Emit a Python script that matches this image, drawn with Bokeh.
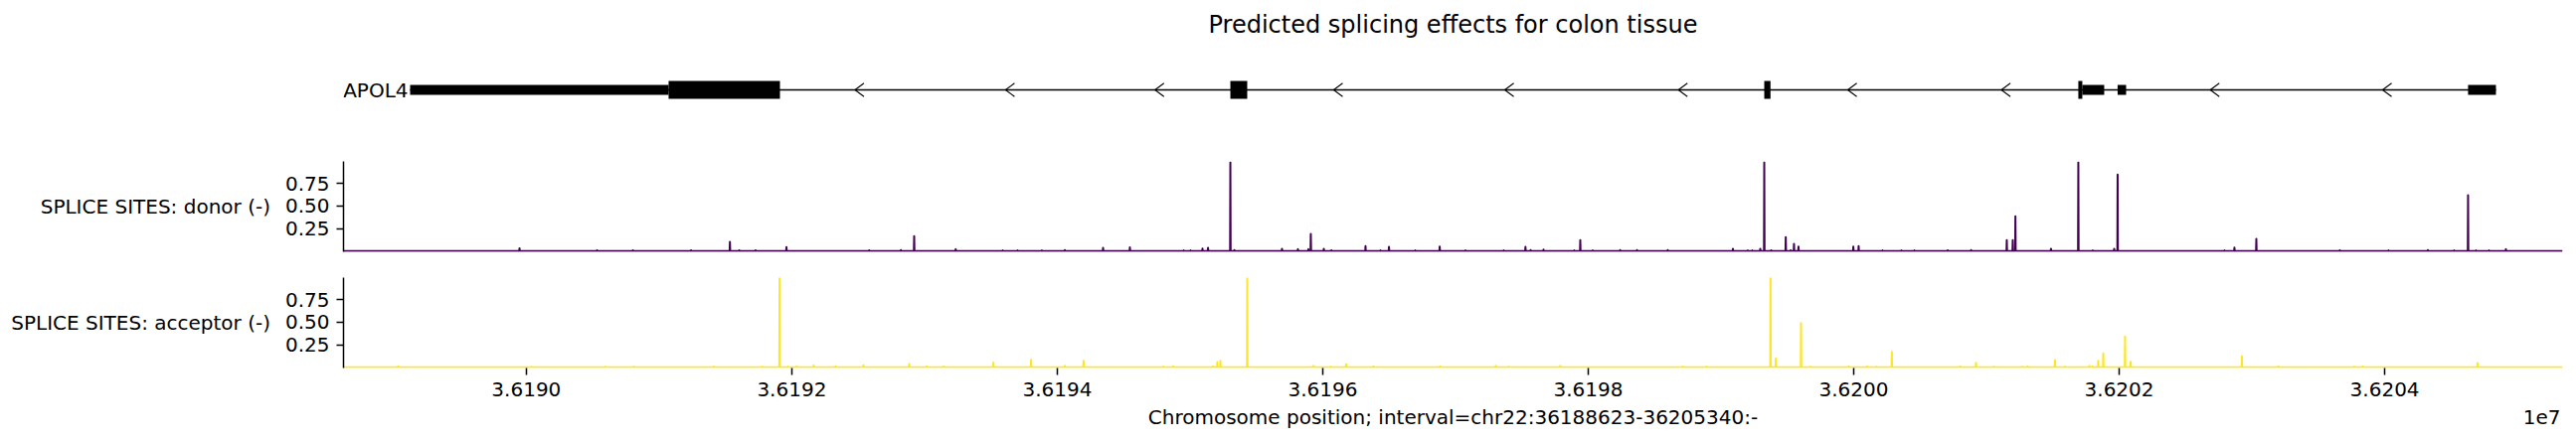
from bokeh.plotting import figure
from bokeh.layouts import column
from bokeh.models import Range1d, FixedTicker, Label
from bokeh.embed import file_html
from bokeh.resources import INLINE

# ---------------- data ----------------
interval_start = 36188623
interval_end = 36205340
gene_name = "APOL4"
title_text = "Predicted splicing effects for colon tissue"
x_label = "Chromosome position; interval=chr22:36188623-36205340:-"
donor_label = "SPLICE SITES: donor (-)"
acceptor_label = "SPLICE SITES: acceptor (-)"

# gene model (minus strand)
intron_start = 36189125
intron_end = 36204838
cds_starts = [36191072, 36195304, 36199326, 36201692]
cds_ends = [36191911, 36195431, 36199373, 36201722]
utr_starts = [36189125, 36201722, 36201988, 36204628]
utr_ends = [36191072, 36201887, 36202052, 36204838]
strand_marks = [36192476, 36193610, 36194736, 36196082, 36197371,
                36198679, 36199955, 36201112, 36202686, 36203984]

donor_pos = [36189949, 36190533, 36190803, 36191241, 36191534, 36191604, 36191727,
             36191960, 36192583, 36192822, 36192922, 36193235, 36193589, 36193701,
             36193884, 36194057, 36194345, 36194547, 36194952, 36195004, 36195094,
             36195136, 36195304, 36195334, 36195693, 36195813, 36195892, 36195910,
             36196008, 36196065, 36196322, 36196435, 36196499, 36196697, 36196881,
             36197075, 36197363, 36197527, 36197566, 36197663, 36197895, 36197940,
             36198034, 36198240, 36198367, 36198599, 36199090, 36199202, 36199236,
             36199296, 36199326, 36199378, 36199488, 36199525, 36199550, 36199584,
             36199997, 36200037, 36200217, 36200359, 36200457, 36200708, 36200884,
             36201153, 36201198, 36201218, 36201486, 36201692, 36201801, 36201962,
             36201988, 36202793, 36202868, 36203033, 36203662, 36204029, 36204325,
             36204523, 36204628, 36204688, 36204786, 36204913]
donor_val = [0.03, 0.008, 0.008, 0.008, 0.10, 0.008, 0.008,
             0.044, 0.008, 0.01, 0.165, 0.02, 0.006, 0.006,
             0.006, 0.01, 0.035, 0.04, 0.006, 0.006, 0.027,
             0.035, 0.985, 0.01, 0.025, 0.02, 0.02, 0.19,
             0.025, 0.008, 0.055, 0.006, 0.045, 0.006, 0.05,
             0.006, 0.006, 0.045, 0.01, 0.015, 0.006, 0.12,
             0.006, 0.01, 0.01, 0.01, 0.025, 0.006, 0.006,
             0.025, 0.985, 0.008, 0.155, 0.008, 0.08, 0.048,
             0.048, 0.055, 0.006, 0.006, 0.006, 0.008, 0.01,
             0.12, 0.12, 0.385, 0.025, 0.985, 0.006, 0.025,
             0.85, 0.006, 0.037, 0.135, 0.008, 0.006, 0.01,
             0.006, 0.62, 0.006, 0.006, 0.02]

acceptor_pos = [36189035, 36190039, 36190597, 36190810, 36191414, 36191776, 36191908,
                36191971, 36192037, 36192166, 36192330, 36192540, 36192885, 36193016,
                36193145, 36193519, 36193803, 36194057, 36194198, 36194800, 36194874,
                36195174, 36195206, 36195229, 36195431, 36195931, 36196060, 36196176,
                36196382, 36196884, 36197303, 36197401, 36197789, 36198712, 36198891,
                36199373, 36199413, 36199603, 36199673, 36199962, 36200102, 36200172,
                36200287, 36200801, 36200921, 36201056, 36201269, 36201310, 36201516,
                36201593, 36201775, 36201797, 36201842, 36201880, 36202044, 36202086,
                36202924, 36203198, 36203771, 36203834, 36204699]
acceptor_val = [0.01, 0.005, 0.006, 0.006, 0.006, 0.006, 0.99,
                0.006, 0.01, 0.02, 0.01, 0.022, 0.037, 0.01,
                0.01, 0.052, 0.082, 0.015, 0.07, 0.006, 0.01,
                0.01, 0.056, 0.07, 0.99, 0.015, 0.006, 0.033,
                0.01, 0.008, 0.015, 0.006, 0.015, 0.006, 0.006,
                0.99, 0.097, 0.49, 0.006, 0.01, 0.008, 0.005,
                0.17, 0.01, 0.05, 0.006, 0.006, 0.01, 0.08,
                0.006, 0.015, 0.008, 0.07, 0.155, 0.34, 0.06,
                0.12, 0.01, 0.006, 0.008, 0.045]

x_ticks = [36190000, 36192000, 36194000, 36196000, 36198000, 36200000, 36202000, 36204000]
x_tick_labels = ["3.6190", "3.6192", "3.6194", "3.6196", "3.6198", "3.6200", "3.6202", "3.6204"]
offset_text = "1e7"
y_ticks = [0.25, 0.5, 0.75]
y_tick_labels = ["0.25", "0.50", "0.75"]

DONOR_COLOR = "#440154"
ACCEPTOR_COLOR = "#fde725"
FONT = "DejaVu Sans"

# ---------------- layout constants ----------------
FRAME_W = 2232
LEFT = 345
RIGHT = 14

x_range = Range1d(interval_start, interval_end)


def base_fig(h_frame, top, bottom, y_range):
    p = figure(frame_width=FRAME_W, frame_height=h_frame, x_range=x_range, y_range=y_range,
               min_border_left=LEFT, min_border_right=RIGHT, min_border_top=top,
               min_border_bottom=bottom, toolbar_location=None, output_backend="svg")
    p.outline_line_color = None
    p.grid.visible = False
    p.background_fill_color = "white"
    p.border_fill_color = "white"
    return p


# ---------- gene track + title ----------
pa = base_fig(140, 0, 0, Range1d(-50, 90))
pa.xaxis.visible = False
pa.yaxis.visible = False
pa.segment(x0=[intron_start], y0=[0], x1=[intron_end], y1=[0], line_color="black", line_width=1.3)
chev_w = 68
pa.segment(x0=strand_marks, y0=[0] * len(strand_marks),
           x1=[g + chev_w for g in strand_marks], y1=[6.7] * len(strand_marks),
           line_color="black", line_width=1.1)
pa.segment(x0=strand_marks, y0=[0] * len(strand_marks),
           x1=[g + chev_w for g in strand_marks], y1=[-6.7] * len(strand_marks),
           line_color="black", line_width=1.1)
pa.quad(left=utr_starts, right=utr_ends, top=5, bottom=-5, fill_color="black", line_color=None)
pa.quad(left=cds_starts, right=cds_ends, top=9, bottom=-9, fill_color="black", line_color=None)
pa.add_layout(Label(x=intron_start, y=0, x_offset=-2, text=gene_name, text_align="right",
                    text_baseline="middle", text_font=FONT, text_font_size="20px",
                    text_color="black"))
pa.add_layout(Label(x=(interval_start + interval_end) / 2, y=66, text=title_text,
                    text_align="center", text_baseline="middle", text_font=FONT,
                    text_font_size="24px", text_color="black"))

Y0, Y1 = -0.009, 0.995


def spike_path(pos, val):
    xs = [interval_start]
    ys = [0.0]
    for g, v in sorted(zip(pos, val)):
        xs += [g - 2, g, g + 2]
        ys += [0.0, v, 0.0]
    xs.append(interval_end)
    ys.append(0.0)
    return xs, ys


def style_y(p, label):
    p.yaxis.ticker = FixedTicker(ticks=y_ticks)
    p.yaxis.major_label_overrides = {t: l for t, l in zip(y_ticks, y_tick_labels)}
    p.yaxis.minor_tick_line_color = None
    p.yaxis.major_tick_in = 0
    p.yaxis.major_tick_out = 7
    p.yaxis.major_tick_line_width = 1.5
    p.yaxis.axis_line_width = 1.5
    p.yaxis.axis_line_color = "black"
    p.yaxis.major_tick_line_color = "black"
    p.yaxis.major_label_standoff = 7
    p.yaxis.major_label_text_font = FONT
    p.yaxis.major_label_text_font_size = "20px"
    p.yaxis.major_label_text_color = "black"
    p.yaxis.axis_label = label
    p.yaxis.axis_label_orientation = "horizontal"
    p.yaxis.axis_label_standoff = 12
    p.yaxis.axis_label_text_font = FONT
    p.yaxis.axis_label_text_font_size = "20px"
    p.yaxis.axis_label_text_font_style = "normal"
    p.yaxis.axis_label_text_color = "black"


# ---------- donor ----------
pb = base_fig(91, 22, 13, Range1d(Y0, Y1))
pb.xaxis.visible = False
style_y(pb, donor_label)
dx, dy = spike_path(donor_pos, donor_val)
pb.line(dx, dy, line_color=DONOR_COLOR, line_width=2, line_join="round")

# ---------- acceptor ----------
pc = base_fig(91, 13, 37, Range1d(Y0, Y1))
style_y(pc, acceptor_label)
pc.xaxis.ticker = FixedTicker(ticks=x_ticks)
pc.xaxis.major_label_overrides = {t: l for t, l in zip(x_ticks, x_tick_labels)}
pc.xaxis.minor_tick_line_color = None
pc.xaxis.axis_line_color = None
pc.xaxis.major_tick_in = 0
pc.xaxis.major_tick_out = 7
pc.xaxis.major_tick_line_width = 1.5
pc.xaxis.major_tick_line_color = "black"
pc.xaxis.major_label_standoff = 7
pc.xaxis.major_label_text_font = FONT
pc.xaxis.major_label_text_font_size = "20px"
pc.xaxis.major_label_text_color = "black"
ax, ay = spike_path(acceptor_pos, acceptor_val)
pc.line(ax, ay, line_color=ACCEPTOR_COLOR, line_width=2, line_join="round")

# ---------- x-axis title row ----------
pd_ = base_fig(37, 0, 0, Range1d(0, 37))
pd_.xaxis.visible = False
pd_.yaxis.visible = False
pd_.add_layout(Label(x=(interval_start + interval_end) / 2, y=24.3, text=x_label,
                     text_align="center", text_baseline="middle", text_font=FONT,
                     text_font_size="20px", text_color="black"))
pd_.add_layout(Label(x=interval_end, y=24.3, x_offset=-2, text=offset_text,
                     text_align="right", text_baseline="middle", text_font=FONT,
                     text_font_size="20px", text_color="black"))

layout = column(pa, pb, pc, pd_, spacing=0)
open("out.html", "w").write(file_html(layout, INLINE))
